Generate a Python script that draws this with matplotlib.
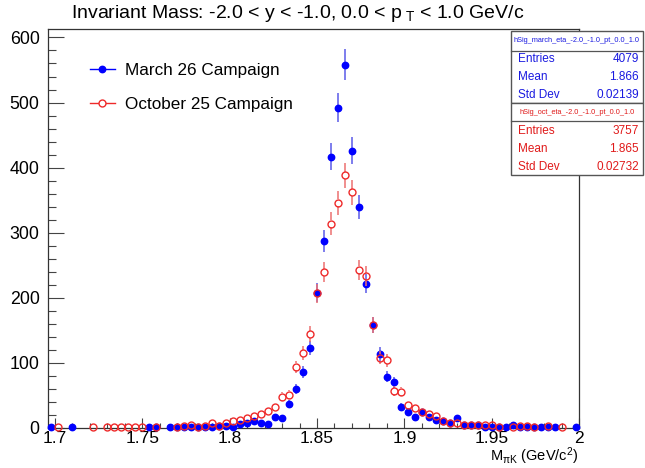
import numpy as np
import matplotlib
matplotlib.use("Agg")
import matplotlib.pyplot as plt
from matplotlib.lines import Line2D
from matplotlib.patches import Rectangle

plt.rcParams['font.family'] = ['Liberation Sans', 'DejaVu Sans']
plt.rcParams['mathtext.fontset'] = 'custom'
plt.rcParams['mathtext.rm'] = 'Liberation Sans'
plt.rcParams['mathtext.it'] = 'Liberation Sans'
plt.rcParams['mathtext.sf'] = 'Liberation Sans'
plt.rcParams['mathtext.default'] = 'regular'

# ---- data ----
bin_start = 1.698
bin_width = 0.004
n_bins = 76
march_counts = [1, 0, 0, 1, 0, 0, 0, 0, 0, 0,
                0, 0, 0, 0, 1, 1, 0, 1, 1, 2,
                2, 1, 1, 1, 3, 3, 1, 6, 8, 10,
                8, 6, 17, 15, 37, 60, 86, 123, 208, 287,
                417, 492, 558, 426, 340, 222, 158, 114, 79, 70,
                33, 25, 17, 24, 17, 12, 11, 8, 15, 5,
                4, 5, 1, 2, 1, 1, 4, 1, 2, 1,
                1, 2, 1, 0, 0, 1]
october_counts = [0, 1, 0, 0, 0, 0, 1, 0, 1, 1,
                  1, 1, 1, 1, 0, 1, 0, 0, 1, 3,
                  4, 1, 3, 7, 3, 8, 10, 12, 15, 18,
                  21, 26, 33, 48, 51, 94, 115, 144, 207, 239,
                  314, 346, 388, 362, 243, 233, 158, 108, 104, 57,
                  56, 36, 31, 24, 21, 19, 11, 8, 7, 5,
                  5, 5, 4, 4, 1, 0, 2, 3, 3, 1,
                  0, 3, 0, 1, 0, 0]
series_labels = ["March 26 Campaign", "October 25 Campaign"]
x_ticks = [1.7, 1.75, 1.8, 1.85, 1.9, 1.95, 2.0]
x_ticklabels = ["1.7", "1.75", "1.8", "1.85", "1.9", "1.95", "2"]
y_ticks = [0, 100, 200, 300, 400, 500, 600]
y_ticklabels = ["0", "100", "200", "300", "400", "500", "600"]
stats_march = {"name": "hSig_march_eta_-2.0_-1.0_pt_0.0_1.0",
               "Entries": "4079", "Mean": "1.866", "Std Dev": "0.02139"}
stats_oct = {"name": "hSig_oct_eta_-2.0_-1.0_pt_0.0_1.0",
             "Entries": "3757", "Mean": "1.865", "Std Dev": "0.02732"}
title = "Invariant Mass: -2.0 < y < -1.0, 0.0 < $p_{\\ T}$ < 1.0 GeV/c"
xlabel = "M$_{\\pi K}$ (GeV/c$^{2}$)"

W, H = 645, 468
fig = plt.figure(figsize=(W / 100, H / 100), dpi=100)
ax = fig.add_axes([48 / W, 1 - 428 / H, (579 - 48) / W, (428 - 29) / H])
ax.set_xlim(1.696, 2.0)
ax.set_ylim(0, 613)

centers = bin_start + bin_width * np.arange(n_bins)
blue = '#0000ff'
red = '#ee2a2a'

# pixel -> data conversion for error-bar gaps
ax_h_px = (428 - 29)
px_per_unit = ax_h_px / 613.0

def draw_series(counts, color, ecolor, face, msize, zbase, gap_px):
    c = np.asarray(counts, dtype=float)
    m = c > 0
    x = centers[m]
    y = c[m]
    e = np.sqrt(y)
    gap = gap_px / px_per_unit
    has = e > gap
    ax.vlines(x[has], (y + gap)[has], (y + e)[has], colors=ecolor, lw=1.1, zorder=zbase)
    ax.vlines(x[has], (y - e)[has], (y - gap)[has], colors=ecolor, lw=1.1, zorder=zbase)
    ax.plot(x, y, linestyle='none', marker='o', markersize=msize,
            markerfacecolor=face, markeredgecolor=color, markeredgewidth=1.0,
            zorder=zbase + 1, clip_on=False)

draw_series(march_counts, blue, '#5a5ae8', blue, 4.6, 3, 3.0)
draw_series(october_counts, red, '#ec7070', 'none', 5.0, 5, 3.6)

# axes styling (ROOT-like)
for side in ['top', 'right', 'left', 'bottom']:
    ax.spines[side].set_color('#333333')
    ax.spines[side].set_linewidth(0.9)
ax.set_xticks(x_ticks)
ax.set_xticklabels(x_ticklabels)
ax.set_yticks(y_ticks)
ax.set_yticklabels(y_ticklabels)
ax.set_xticks(np.arange(1.70, 2.0001, 0.01), minor=True)
ax.set_yticks(np.arange(0, 613, 20), minor=True)
ax.tick_params(axis='x', which='major', direction='in', length=7.5, width=0.8,
               color='#444444', labelsize=12.5, pad=2.5, top=False)
ax.tick_params(axis='x', which='minor', direction='in', length=3.8, width=0.8,
               color='#444444', top=False)
ax.tick_params(axis='y', which='major', direction='in', length=11.5, width=0.8,
               color='#444444', labelsize=12.8, pad=6, right=False)
ax.tick_params(axis='y', which='minor', direction='in', length=5.8, width=0.8,
               color='#444444', right=False)

# title and axis label
fig.text(297.5 / W, 1 - 13 / H, title, ha='center', va='center', fontsize=14)
fig.text(578 / W, 1 - 456.5 / H, xlabel, ha='right', va='center', fontsize=10.5)

# legend
handles = [Line2D([], [], color=blue, marker='o', markersize=4.6, lw=1.0,
                  markerfacecolor=blue, markeredgecolor=blue),
           Line2D([], [], color=red, marker='o', markersize=5.0, lw=1.0,
                  markerfacecolor='white', markeredgecolor=red)]
leg = ax.legend(handles, series_labels, loc='upper left', frameon=False,
                bbox_to_anchor=(90 / W, 1 - 63 / H), bbox_transform=fig.transFigure,
                fontsize=12.3, handlelength=1.45, handletextpad=0.6,
                labelspacing=1.1, borderpad=0, borderaxespad=0)

# stats boxes
def stats_box(st, color, y_top, y_bot, y_line, y_head, rows_y):
    x0, x1 = 511, 643
    fig.add_artist(Rectangle((x0 / W, 1 - y_bot / H), (x1 - x0) / W, (y_bot - y_top) / H,
                             transform=fig.transFigure, facecolor='white',
                             edgecolor='#555555', lw=1.0, zorder=10))
    fig.add_artist(Line2D([x0 / W, x1 / W], [1 - y_line / H, 1 - y_line / H],
                          transform=fig.transFigure, color='#555555', lw=0.9, zorder=11))
    fig.text((x0 + x1) / 2 / W, 1 - y_head / H, st["name"], ha='center', va='center',
             fontsize=5.3, color=color, zorder=12)
    for key, yy in zip(["Entries", "Mean", "Std Dev"], rows_y):
        fig.text(518 / W, 1 - yy / H, key, ha='left', va='center', fontsize=8.5,
                 color=color, zorder=12)
        fig.text(639 / W, 1 - yy / H, st[key], ha='right', va='center', fontsize=8.5,
                 color=color, zorder=12)

stats_box(stats_march, '#1a1ae0', 31, 103, 51, 41, [59, 77, 95])
stats_box(stats_oct, '#e01a1a', 103, 175, 121, 112, [131, 149, 167])

fig.savefig("out.png", dpi=100)
